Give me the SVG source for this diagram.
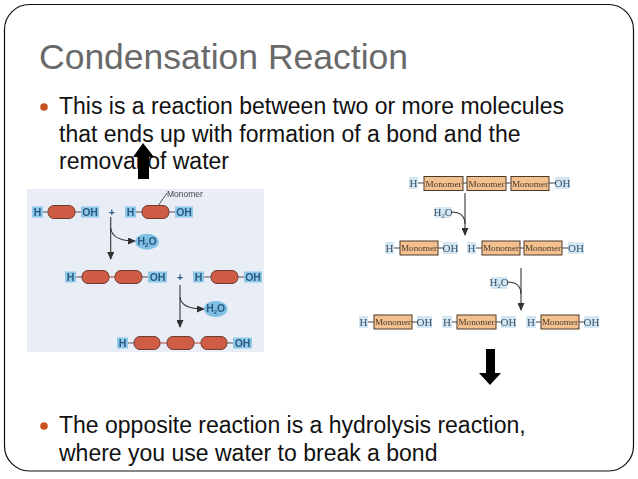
<svg xmlns="http://www.w3.org/2000/svg" width="638" height="479" viewBox="0 0 638 479">
<style>
.t{font-family:"Liberation Sans",Arial,sans-serif}
.title{font-size:35.500px;fill:#696969}
.body{font-size:23px;fill:#111}
.dot{fill:#c8501e}
.lb{fill:#8fc8e8}
.lt{font-family:"Liberation Sans",Arial,sans-serif;font-size:10.500px;font-weight:bold;fill:#2c5a80;text-anchor:middle}
.pill{fill:#cf5b45;stroke:#6e3a30;stroke-width:1}
.ll{stroke:#555;stroke-width:1;fill:none}
.lr{stroke:#c0443a;stroke-width:1.2;fill:none}
.wa{fill:#7fc0e4}
.fl{stroke:#333;stroke-width:1.1;fill:none}
.rb{fill:#d4e6f2}
.rt{font-family:"Liberation Serif",serif;font-size:11px;fill:#33506a;text-anchor:middle}
.mb{fill:#f3c08f;stroke:#4a3a2c;stroke-width:1}
.mt{font-family:"Liberation Serif",serif;font-size:9.200px;fill:#4a3a2c;text-anchor:middle}
.rl{stroke:#444;stroke-width:1;fill:none}
.bk{fill:#000}
</style>
<defs>
<marker id="ah" markerUnits="userSpaceOnUse" markerWidth="8" markerHeight="7" refX="7" refY="3.500" orient="auto"><path d="M0 0L8 3.500L0 7Z" fill="#333"/></marker>
<filter id="soft" x="-5%" y="-5%" width="110%" height="110%"><feGaussianBlur stdDeviation="0.45"/></filter>
</defs>
<rect width="638" height="479" fill="#fff"/>
<rect id="frame" x="4.500" y="4.500" width="629" height="466.500" rx="25" ry="25" fill="none" stroke="#111" stroke-width="1.200"/>
<g id="heading"><text class="t title" x="39" y="69">Condensation Reaction</text></g>
<g id="bullet-1">
<circle class="dot" cx="44" cy="107" r="3.800"/>
<text class="t body" x="59" y="114">This is a reaction between two or more molecules</text>
<text class="t body" x="59" y="142">that ends up with formation of a bond and the</text>
<text class="t body" x="59" y="169">removal of water</text>
</g>
<g id="bullet-2">
<circle class="dot" cx="44" cy="426" r="3.800"/>
<text class="t body" x="59" y="433">The opposite reaction is a hydrolysis reaction,</text>
<text class="t body" x="59" y="461">where you use water to break a bond</text>
</g>
<g id="arrow-up"><path class="bk" d="M143 143L154 157H149V179H138V157H133Z"/></g>
<g id="arrow-down"><path class="bk" d="M486 349H495V373H501L490 385L479 373H486Z"/></g>

<g id="condensation" filter="url(#soft)">
<rect x="27" y="189" width="237" height="163" fill="#e8edf6"/>
<g id="connectors-left">
<path class="ll" d="M43 212H48M75 212H81M136 212H142M169 212H175M76 277H82M142 277H148M204 277H211M238 277H244M128 343H134M227 343H233"/>
<path class="lr" d="M109 277H115M160 343H167M194 343H201"/>
<path class="ll" d="M167 193L158 206"/>
<path class="fl" d="M110.700 217V259" marker-end="url(#ah)"/>
<path class="fl" d="M110.700 228Q112 241 135 241" marker-end="url(#ah)"/>
<path class="fl" d="M180 285V327" marker-end="url(#ah)"/>
<path class="fl" d="M180 297Q181 309 204 309" marker-end="url(#ah)"/>
</g>
<g id="l-row1">
<rect class="lb" x="32" y="206.500" width="11" height="11"/><text class="lt" x="37.500" y="216">H</text>
<rect class="pill" x="48" y="205.500" width="27" height="13" rx="6"/>
<rect class="lb" x="81" y="206.500" width="18" height="11"/><text class="lt" x="90" y="216">OH</text>
<text class="lt" x="111.700" y="216">+</text>
<rect class="lb" x="125" y="206.500" width="11" height="11"/><text class="lt" x="130.500" y="216">H</text>
<rect class="pill" x="142" y="205.500" width="27" height="13" rx="6"/>
<rect class="lb" x="175" y="206.500" width="18" height="11"/><text class="lt" x="184" y="216">OH</text>
<text class="t" x="167" y="197" font-size="8.500" fill="#444">Monomer</text>
</g>
<g id="l-water1"><ellipse class="wa" cx="147" cy="241.700" rx="11.700" ry="8"/><text class="lt" x="147" y="245">H<tspan font-size="6" dy="2">2</tspan><tspan dy="-2">O</tspan></text></g>
<g id="l-row2">
<rect class="lb" x="65" y="271.500" width="11" height="11"/><text class="lt" x="70.500" y="281">H</text>
<rect class="pill" x="82" y="270.500" width="27" height="13" rx="6"/>
<rect class="pill" x="115" y="270.500" width="27" height="13" rx="6"/>
<rect class="lb" x="148" y="271.500" width="19" height="11"/><text class="lt" x="157.500" y="281">OH</text>
<text class="lt" x="180" y="281">+</text>
<rect class="lb" x="193" y="271.500" width="11" height="11"/><text class="lt" x="198.500" y="281">H</text>
<rect class="pill" x="211" y="270.500" width="27" height="13" rx="6"/>
<rect class="lb" x="244" y="271.500" width="18" height="11"/><text class="lt" x="253" y="281">OH</text>
</g>
<g id="l-water2"><ellipse class="wa" cx="215.700" cy="309" rx="11.700" ry="8"/><text class="lt" x="215.700" y="312.300">H<tspan font-size="6" dy="2">2</tspan><tspan dy="-2">O</tspan></text></g>
<g id="l-row3">
<rect class="lb" x="117" y="337.500" width="11" height="11"/><text class="lt" x="122.500" y="347">H</text>
<rect class="pill" x="134" y="336.500" width="26" height="13" rx="6"/>
<rect class="pill" x="167" y="336.500" width="27" height="13" rx="6"/>
<rect class="pill" x="201" y="336.500" width="26" height="13" rx="6"/>
<rect class="lb" x="233" y="337.500" width="19" height="11"/><text class="lt" x="242.500" y="347">OH</text>
</g>
</g>

<g id="hydrolysis" filter="url(#soft)">
<g id="connectors-right">
<path class="rl" d="M418 183H424M463 183H467M506 183H511M549 183H555M394 248H400M438 248H443M476 248H482M520 248H524M562 248H568M368 322H374M412 322H417M452 322H457M496 322H501M536 322H541M579 322H584"/>
<path class="fl" d="M465 193V235" marker-end="url(#ah)"/>
<path class="fl" d="M451 212Q465 212 465 224"/>
<path class="fl" d="M521 268V310" marker-end="url(#ah)"/>
<path class="fl" d="M507 282Q521 282 521 294"/>
</g>
<g id="r-row1">
<rect class="rb" x="409" y="177" width="9" height="12"/><text class="rt" x="413.500" y="187">H</text>
<rect class="mb" x="424" y="176.500" width="39" height="14"/><text class="mt" x="443.500" y="186.500">Monomer</text>
<rect class="mb" x="467" y="176.500" width="39" height="14"/><text class="mt" x="486.500" y="186.500">Monomer</text>
<rect class="mb" x="511" y="176.500" width="38" height="14"/><text class="mt" x="530" y="186.500">Monomer</text>
<rect class="rb" x="555" y="177" width="15" height="12"/><text class="rt" x="562.500" y="187">OH</text>
</g>
<g id="r-water1"><rect class="rb" x="435" y="207" width="16" height="11"/><text class="rt" x="443" y="215.500">H<tspan font-size="6.500" dy="2">2</tspan><tspan dy="-2">O</tspan></text></g>
<g id="r-row2">
<rect class="rb" x="385" y="242" width="9" height="12"/><text class="rt" x="389.500" y="252">H</text>
<rect class="mb" x="400" y="241" width="38" height="14"/><text class="mt" x="419" y="251">Monomer</text>
<rect class="rb" x="443" y="242" width="15" height="12"/><text class="rt" x="450.500" y="252">OH</text>
<rect class="rb" x="467" y="242" width="9" height="12"/><text class="rt" x="471.500" y="252">H</text>
<rect class="mb" x="482" y="241" width="38" height="14"/><text class="mt" x="501" y="251">Monomer</text>
<rect class="mb" x="524" y="241" width="38" height="14"/><text class="mt" x="543" y="251">Monomer</text>
<rect class="rb" x="568" y="242" width="16" height="12"/><text class="rt" x="576" y="252">OH</text>
</g>
<g id="r-water2"><rect class="rb" x="491" y="277" width="16" height="12"/><text class="rt" x="499" y="285.500">H<tspan font-size="6.500" dy="2">2</tspan><tspan dy="-2">O</tspan></text></g>
<g id="r-row3">
<rect class="rb" x="359" y="316" width="9" height="12"/><text class="rt" x="363.500" y="326">H</text>
<rect class="mb" x="374" y="315" width="38" height="14"/><text class="mt" x="393" y="325">Monomer</text>
<rect class="rb" x="417" y="316" width="15" height="12"/><text class="rt" x="424.500" y="326">OH</text>
<rect class="rb" x="442" y="316" width="10" height="12"/><text class="rt" x="447" y="326">H</text>
<rect class="mb" x="457" y="315" width="39" height="14"/><text class="mt" x="476.500" y="325">Monomer</text>
<rect class="rb" x="501" y="316" width="15" height="12"/><text class="rt" x="508.500" y="326">OH</text>
<rect class="rb" x="526" y="316" width="10" height="12"/><text class="rt" x="531" y="326">H</text>
<rect class="mb" x="541" y="315" width="38" height="14"/><text class="mt" x="560" y="325">Monomer</text>
<rect class="rb" x="584" y="316" width="15" height="12"/><text class="rt" x="591.500" y="326">OH</text>
</g>
</g>
</svg>
